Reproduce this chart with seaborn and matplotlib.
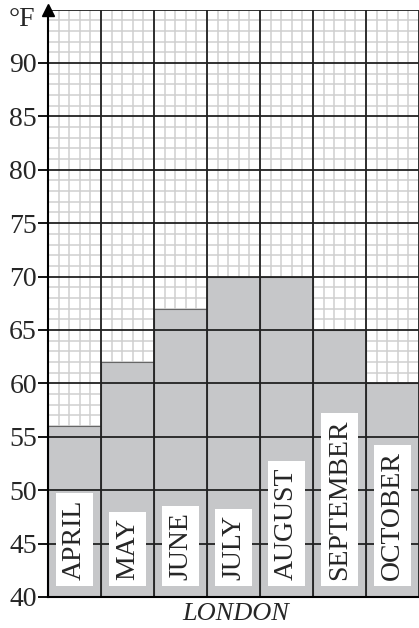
import numpy as np
import matplotlib.pyplot as plt
import seaborn as sns

months = ['APRIL', 'MAY', 'JUNE', 'JULY', 'AUGUST', 'SEPTEMBER', 'OCTOBER']
temps_f = [56, 62, 67, 70, 70, 65, 60]
y_ticks = [40, 45, 50, 55, 60, 65, 70, 75, 80, 85, 90]

sns.set_style('white')
plt.rcParams['font.family'] = ['Liberation Serif', 'DejaVu Serif']

fig = plt.figure(figsize=(4.19, 6.28), dpi=100)
ax = fig.add_axes([48 / 419, 31 / 628, 371 / 419, 587.5 / 628])

sns.barplot(x=months, y=temps_f, color='#c6c7c9', saturation=1, width=1,
            edgecolor='#666666', linewidth=0.8, ax=ax, zorder=2)

# fine grid (1 degree / fifth of a column) under the bars
ax.set_axisbelow(True)
ax.set_yticks(y_ticks)
ax.set_yticks(np.arange(40, 95, 1), minor=True)
ax.set_xticks([])
ax.set_xticks(np.arange(-0.5, len(months) - 0.4, 0.2), minor=True)
ax.grid(which='minor', color='#cfcfcf', linewidth=1.1)
ax.grid(which='major', visible=False)
ax.set_xlim(-0.5, len(months) - 0.5)
ax.set_ylim(40, 95)

# heavy grid on top of the bars
for t in y_ticks[1:]:
    ax.axhline(t, color='#222222', linewidth=1.3, zorder=3)
ax.axhline(95, color='#222222', linewidth=1.3, zorder=3)
for i in range(1, len(months) + 1):
    ax.axvline(i - 0.5, color='#222222', linewidth=1.3, zorder=3)

# month labels in white boxes
for i, m in enumerate(months):
    ax.text(i, 41.6, m, rotation=90, ha='center', va='bottom', fontsize=20,
            zorder=4, bbox=dict(boxstyle='square,pad=0.22', fc='white', ec='none'))

ax.tick_params(axis='x', which='both', bottom=False)
ax.tick_params(axis='y', which='major', direction='out', length=7, width=1.3,
               color='black', labelsize=20, pad=1, left=True)
ax.tick_params(axis='y', which='minor', left=False)
for s in ['top', 'right']:
    ax.spines[s].set_visible(False)
for s in ['left', 'bottom']:
    ax.spines[s].set_color('black')
    ax.spines[s].set_linewidth(1.5)
    ax.spines[s].set_zorder(5)
ax.plot(0, 1, marker='^', color='black', markersize=8, transform=ax.transAxes,
        clip_on=False, zorder=6)

ax.set_ylabel('')
fig.text(236 / 419, 1 - 614 / 628, 'LONDON', fontsize=19, fontstyle='italic',
         ha='center', va='center')
fig.text(22 / 419, 1 - 20 / 628, '°F', fontsize=20, ha='center', va='center')

fig.savefig('out.png', dpi=100)
